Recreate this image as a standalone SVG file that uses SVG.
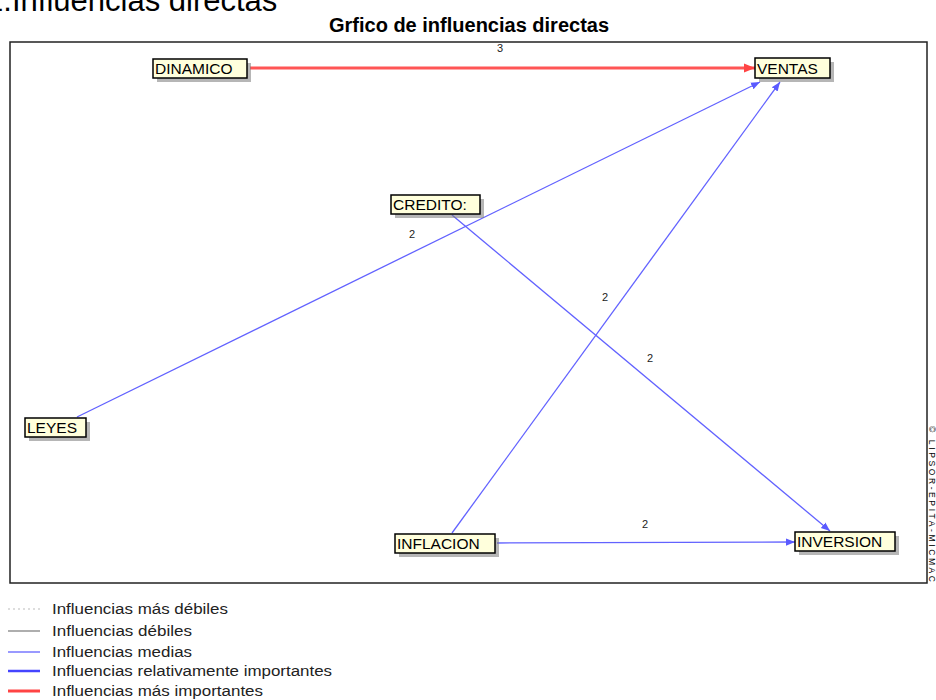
<svg xmlns="http://www.w3.org/2000/svg" width="936" height="700" viewBox="0 0 936 700">
<style>
text{font-family:"Liberation Sans",Arial,sans-serif;fill:#000}
.box{fill:#ffffdc;stroke:#000;stroke-width:1.5}
.sh{fill:#7a7a7a;opacity:.55}
.nt{font-size:15.5px}
.lbl{font-size:11px;fill:#222}
.blue{stroke:#6262ff;stroke-width:1.3;fill:none}
.red{stroke:#ff5555;stroke-width:3;fill:none}
.leg{font-size:15.5px;fill:#222}
</style>
<defs>
<marker id="ab" viewBox="0 0 10 10" refX="10" refY="5" markerWidth="9" markerHeight="9" markerUnits="userSpaceOnUse" orient="auto"><path d="M0,1 L10,5 L0,9 z" fill="#5a5aff"/></marker>
<marker id="ar" viewBox="0 0 10 10" refX="10" refY="5" markerWidth="11" markerHeight="11" markerUnits="userSpaceOnUse" orient="auto"><path d="M0,1 L10,5 L0,9 z" fill="#ff4444"/></marker>
</defs>
<rect width="936" height="700" fill="#fff"/>
<text x="-14" y="11" font-size="31"><tspan>1.</tspan><tspan x="12">Influencias directas</tspan></text>
<text x="469" y="32" font-size="20" font-weight="bold" text-anchor="middle" fill="#222">Grfico de influencias directas</text>
<rect x="10" y="42" width="917" height="541" fill="#fff" stroke="#222" stroke-width="1.5"/>
<text transform="translate(929,426) rotate(90)" font-size="8.5" fill="#333" textLength="156">© LIPSOR-EPITA-MICMAC</text>
<g id="connectors">
<path class="red" d="M250,68 L755,68" marker-end="url(#ar)"/>
<path class="blue" d="M77,417 L760,82" marker-end="url(#ab)"/>
<path class="blue" d="M452,533 L780,82" marker-end="url(#ab)"/>
<path class="blue" d="M452,215 L830,531" marker-end="url(#ab)"/>
<path class="blue" d="M497,543 L795,542" marker-end="url(#ab)"/>
<text class="lbl" x="500" y="52" text-anchor="middle" font-size="10">3</text>
<text class="lbl" x="412" y="238" text-anchor="middle">2</text>
<text class="lbl" x="605" y="301" text-anchor="middle">2</text>
<text class="lbl" x="650" y="362" text-anchor="middle">2</text>
<text class="lbl" x="645" y="528" text-anchor="middle">2</text>
</g>
<g id="DINAMICO"><rect class="sh" x="157" y="63" width="94" height="19"/><rect class="box" x="153" y="59" width="94" height="19"/><text class="nt" x="155" y="74">DINAMICO</text></g>
<g id="VENTAS"><rect class="sh" x="759" y="62" width="75" height="20"/><rect class="box" x="755" y="58" width="75" height="20"/><text class="nt" x="757" y="74">VENTAS</text></g>
<g id="CREDITO"><rect class="sh" x="395" y="199" width="89" height="19"/><rect class="box" x="391" y="195" width="89" height="19"/><text class="nt" x="393" y="210">CREDITO:</text></g>
<g id="LEYES"><rect class="sh" x="29" y="422" width="61" height="19"/><rect class="box" x="25" y="418" width="61" height="19"/><text class="nt" x="27" y="433">LEYES</text></g>
<g id="INFLACION"><rect class="sh" x="399" y="538" width="100" height="19"/><rect class="box" x="395" y="534" width="100" height="19"/><text class="nt" x="397" y="549">INFLACION</text></g>
<g id="INVERSION"><rect class="sh" x="799" y="536" width="100" height="19"/><rect class="box" x="795" y="532" width="100" height="19"/><text class="nt" x="797" y="547">INVERSION</text></g>
<g id="legend">
<line x1="8" y1="609" x2="40" y2="609" stroke="#bbb" stroke-width="1" stroke-dasharray="2,3"/>
<line x1="8" y1="631" x2="40" y2="631" stroke="#777" stroke-width="1.2"/>
<line x1="8" y1="652" x2="40" y2="652" stroke="#5555ff" stroke-width="1.2"/>
<line x1="8" y1="671" x2="40" y2="671" stroke="#4444ff" stroke-width="2.5"/>
<line x1="8" y1="691" x2="40" y2="691" stroke="#ff4444" stroke-width="3"/>
<text class="leg" x="52" y="614" textLength="176" lengthAdjust="spacingAndGlyphs">Influencias más débiles</text>
<text class="leg" x="52" y="636" textLength="140" lengthAdjust="spacingAndGlyphs">Influencias débiles</text>
<text class="leg" x="52" y="657" textLength="140" lengthAdjust="spacingAndGlyphs">Influencias medias</text>
<text class="leg" x="52" y="676" textLength="280" lengthAdjust="spacingAndGlyphs">Influencias relativamente importantes</text>
<text class="leg" x="52" y="696" textLength="211" lengthAdjust="spacingAndGlyphs">Influencias más importantes</text>
</g>
</svg>
